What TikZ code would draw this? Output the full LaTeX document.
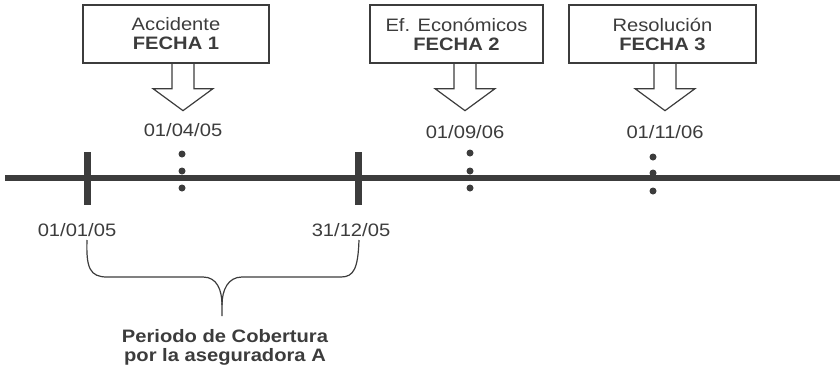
\documentclass[tikz,border=0pt]{standalone}
\usepackage{fontspec}
\setmainfont{Liberation Sans}[FakeStretch=1.12]
\usetikzlibrary{calc}

\definecolor{ink}{RGB}{60,60,60}

\tikzset{
	box/.style={draw=ink, line width=1.3pt, minimum width=186pt, minimum height=58pt, inner sep=0pt, align=center},
	arrowline/.style={draw=ink, line width=1.2pt, line join=miter},
	axisline/.style={draw=ink, line width=6.5pt},
	tickline/.style={draw=ink, line width=7pt},
	braceline/.style={draw=ink, line width=1.2pt},
	pics/blockarrow/.style={code={
		\draw[arrowline] (-11,0) -- (-11,25) -- (-30,25) -- (0,47) -- (30,25) -- (11,25) -- (11,0);
	}}
}

\begin{document}
\begin{tikzpicture}[x=1pt, y=-1pt, every node/.style={text=ink, font=\fontsize{18}{19}\selectfont}]
		\useasboundingbox (0,0) rectangle (840,378);

		% event boxes
		\node[box] (ACC) at (176,34)   {Accidente\\\textbf{FECHA 1}};
		\node[box, minimum width=173pt] (EFE) at (456.5,34) {Ef. Económicos\\\textbf{FECHA 2}};
		\node[box, minimum width=187pt] (RES) at (662.5,34) {Resolución\\\textbf{FECHA 3}};

		% dates above the line
		\node (F1) at (183,130) {01/04/05};
		\node (F2) at (465,132) {01/09/06};
		\node (F3) at (665,132) {01/11/06};

		\pic at (ACC.south -| F1) {blockarrow};
		\pic at (EFE.south -| F2) {blockarrow};
		\pic at (RES.south -| F3) {blockarrow};

		% time line
		\coordinate (start) at (5,178);
		\coordinate (end)   at (840,178);
		\draw[axisline] (start) -- (end);
		\draw[tickline] (87,152) -- (87,205);
		\draw[tickline] (358,152) -- (358,205);
		\foreach \x/\y in {182/154, 182/171, 182/188, 470/153, 470/171, 470/188, 653/157, 653/173, 653/191}
			\fill[ink] (\x,\y) circle (3.5pt);

		% coverage period
		\node (INI) at (77,230)  {01/01/05};
		\node (FIN) at (351,230) {31/12/05};
		\node[align=center, font=\fontsize{18}{19}\selectfont\bfseries] (PER) at (225,347) {Periodo de Cobertura\\por la aseguradora A};

		\draw[braceline] (87,240) .. controls (86,268) and (90,277) .. (107,277) -- (203,277)
			.. controls (217,277) and (222,290) .. (222,305) -- (222,316);
		\draw[braceline] (222,305) .. controls (222,290) and (228,277) .. (242,277) -- (341,277)
			.. controls (354,277) and (358,268) .. (359,240);
	\end{tikzpicture}
\end{document}
